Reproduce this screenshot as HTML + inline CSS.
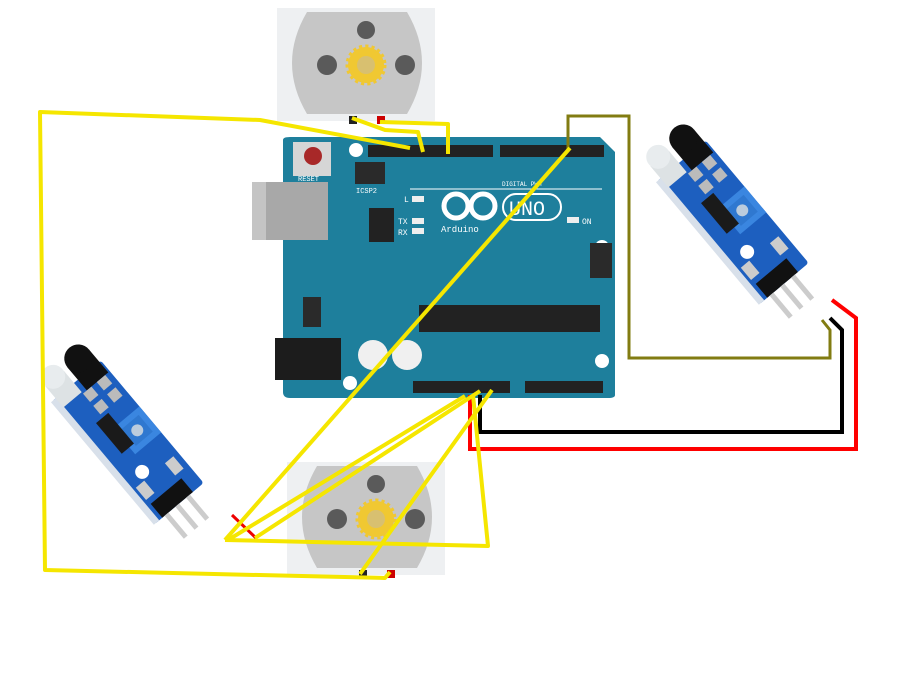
<!DOCTYPE html>
<html><head><meta charset="utf-8"><style>
html,body{margin:0;padding:0;background:#fff;width:900px;height:675px;overflow:hidden}
svg{display:block}
text{font-family:"Liberation Mono",monospace}
</style></head><body>
<svg width="900" height="675" viewBox="0 0 900 675" xmlns="http://www.w3.org/2000/svg">
<defs>
<g id="motor">
  <rect x="0" y="0" width="158" height="113" fill="#eef0f2"/>
  <path d="M30 4 H130 Q160 55 130 106 H30 Q0 55 30 4Z" fill="#c6c6c6"/>
  <circle cx="89" cy="22" r="9" fill="#5a5a5a"/>
  <circle cx="50" cy="57" r="10" fill="#5a5a5a"/>
  <circle cx="128" cy="57" r="10" fill="#5a5a5a"/>
  <circle cx="89" cy="57" r="18" fill="#f0c832" stroke="#f0c832" stroke-width="5" stroke-dasharray="3 3"/>
  <circle cx="89" cy="57" r="9" fill="#d8c070"/>
  <rect x="72" y="108" width="8" height="8" fill="#222"/>
  <rect x="100" y="108" width="8" height="8" fill="#c00"/>
</g>
<g id="sensor">
  <rect x="30" y="-32" width="160" height="64" rx="3" fill="#1d5fbf"/>
  <rect x="30" y="26" width="160" height="7" fill="#d8e0ea"/>
  <rect x="14" y="-30" width="30" height="28" fill="#111"/>
  <ellipse cx="14" cy="-16" rx="14" ry="14" fill="#111"/>
  <rect x="14" y="3" width="28" height="24" fill="#dde2e4"/>
  <ellipse cx="12" cy="15" rx="12" ry="12" fill="#e8ecee"/>
  <rect x="90" y="-32" width="34" height="34" fill="#3a86e0"/>
  <rect x="96" y="-26" width="22" height="22" fill="#2f78d0"/>
  <circle cx="107" cy="-15" r="6" fill="#bcd"/>
  <rect x="75" y="-4" width="40" height="16" fill="#1a1a1a"/>
  <circle cx="142" cy="8" r="7" fill="#fff"/>
  <rect x="172" y="-18" width="18" height="40" fill="#111"/>
  <rect x="190" y="-14" width="30" height="5" fill="#ccc"/>
  <rect x="190" y="0" width="30" height="5" fill="#ccc"/>
  <rect x="190" y="14" width="30" height="5" fill="#ccc"/>
  <rect x="44" y="-26" width="11" height="11" fill="#bbb"/>
  <rect x="60" y="-26" width="11" height="11" fill="#bbb"/>
  <rect x="44" y="-8" width="11" height="11" fill="#bbb"/>
  <rect x="60" y="-8" width="11" height="11" fill="#bbb"/>
  <rect x="150" y="-26" width="16" height="11" fill="#ccc"/>
  <rect x="150" y="12" width="16" height="11" fill="#ccc"/>
</g>
</defs>

<use href="#motor" x="277" y="8"/>
<use href="#motor" x="287" y="462"/>

<!-- Arduino -->
<path d="M283 140 Q283 137 290 137 H600 L615 152 V395 Q615 398 608 398 H290 Q283 398 283 392Z" fill="#1e7f9c"/>
<rect x="252" y="182" width="76" height="58" fill="#a8a8a8"/>
<rect x="252" y="182" width="14" height="58" fill="#c4c4c4"/>
<rect x="275" y="338" width="66" height="42" fill="#1c1c1c"/>
<rect x="293" y="142" width="38" height="34" fill="#d6d6d6"/>
<circle cx="313" cy="156" r="9" fill="#a82828"/>
<text x="298" y="181" font-size="7" fill="#fff">RESET</text>
<circle cx="356" cy="150" r="7" fill="#fff"/>
<circle cx="350" cy="383" r="7" fill="#fff"/>
<circle cx="602" cy="247" r="7" fill="#fff"/>
<circle cx="602" cy="361" r="7" fill="#fff"/>
<rect x="355" y="162" width="30" height="22" fill="#2a2a2a"/>
<text x="356" y="193" font-size="7" fill="#fff">ICSP2</text>
<rect x="368" y="145" width="125" height="12" fill="#222"/>
<rect x="500" y="145" width="104" height="12" fill="#222"/>
<rect x="413" y="381" width="97" height="12" fill="#222"/>
<rect x="525" y="381" width="78" height="12" fill="#222"/>
<rect x="369" y="208" width="25" height="34" fill="#222"/>
<rect x="419" y="305" width="181" height="27" fill="#222"/>
<rect x="590" y="243" width="22" height="35" fill="#2a2a2a"/>
<rect x="303" y="297" width="18" height="30" fill="#2a2a2a"/>
<circle cx="373" cy="355" r="15" fill="#f0f0f0"/>
<circle cx="407" cy="355" r="15" fill="#f0f0f0"/>
<rect x="412" y="196" width="12" height="6" fill="#eee"/>
<rect x="412" y="218" width="12" height="6" fill="#eee"/>
<rect x="412" y="228" width="12" height="6" fill="#eee"/>
<rect x="567" y="217" width="12" height="6" fill="#eee"/>
<text x="404" y="202" font-size="8" fill="#fff">L</text>
<text x="398" y="224" font-size="8" fill="#fff">TX</text>
<text x="398" y="235" font-size="8" fill="#fff">RX</text>
<text x="582" y="224" font-size="8" fill="#fff">ON</text>
<text x="502" y="186" font-size="6" fill="#fff">DIGITAL PWM</text>
<line x1="410" y1="189" x2="602" y2="189" stroke="#fff" stroke-width="1"/>
<circle cx="456" cy="206" r="12" fill="none" stroke="#fff" stroke-width="5"/>
<circle cx="483" cy="206" r="12" fill="none" stroke="#fff" stroke-width="5"/>
<rect x="503" y="194" width="58" height="26" rx="13" fill="none" stroke="#fff" stroke-width="2"/>
<text x="509" y="215" font-size="20" fill="#fff" font-family="Liberation Sans">UNO</text>
<text x="441" y="232" font-size="9" fill="#fff">Arduino</text>

<!-- Sensors -->
<g transform="translate(662,138) rotate(50)"><use href="#sensor"/></g>
<g transform="translate(57,358) rotate(50)"><use href="#sensor"/></g>

<!-- olive wire -->
<polyline points="568,150 568,116 629,116 629,358 830,358 830,330 822,320" fill="none" stroke="#827c12" stroke-width="3"/>
<!-- black / red -->
<polyline points="480,395 480,432 842,432 842,330 830,318" fill="none" stroke="#000" stroke-width="4"/>
<polyline points="470,395 470,449 856,449 856,318 832,300" fill="none" stroke="#f00" stroke-width="4"/>
<line x1="232" y1="515" x2="256" y2="538" stroke="#e00" stroke-width="3"/>

<!-- yellow wires -->
<g fill="none" stroke="#f5e600" stroke-width="4" stroke-linejoin="round">
<polyline points="410,148 260,120 40,112 45,570 385,578 390,572"/>
<polyline points="352,118 385,130 418,132 423,152"/>
<polyline points="380,122 448,124 448,154"/>
<line x1="570" y1="148" x2="225" y2="540"/>
<polyline points="225,540 488,546 473,395"/>
<line x1="228" y1="540" x2="465" y2="396"/>
<line x1="255" y1="538" x2="480" y2="391"/>
<line x1="360" y1="574" x2="492" y2="390"/>
</g>
</svg>
</body></html>
